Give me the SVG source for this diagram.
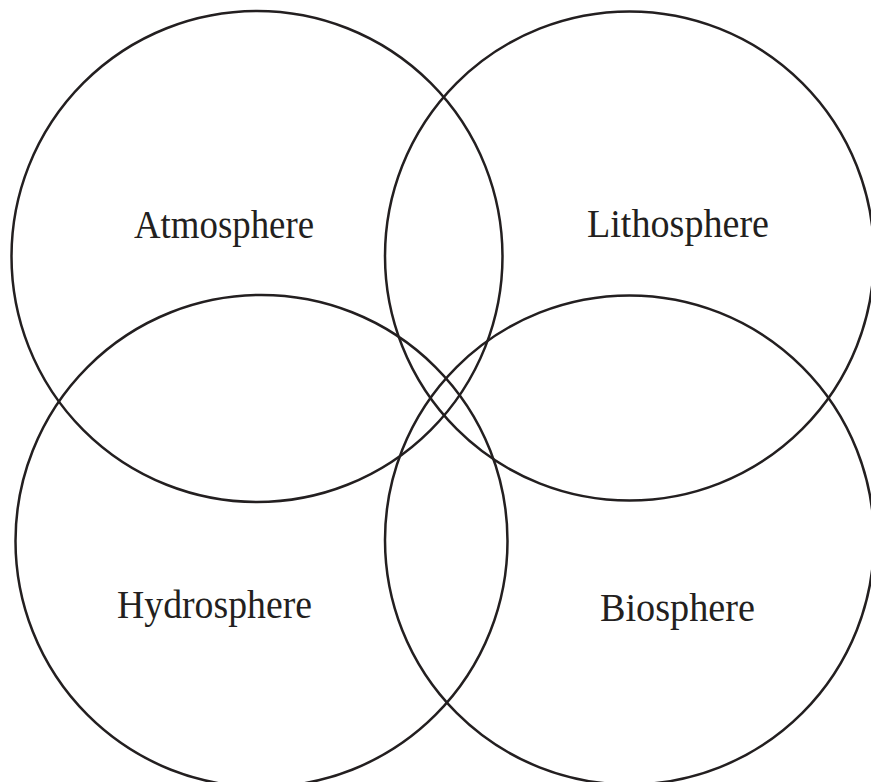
<svg xmlns="http://www.w3.org/2000/svg" width="871" height="782" viewBox="0 0 871 782">
<style>
.c{fill:none;stroke:#231f20;stroke-width:2.5}
.t{font-family:"Liberation Serif","Times New Roman",serif;font-size:40px;fill:#231f20}
</style>
<rect width="871" height="782" fill="#fff"/>
<g id="atmosphere"><circle class="c" cx="257" cy="256.5" r="245.5"/><text class="t" x="134" y="238" textLength="180" lengthAdjust="spacingAndGlyphs">Atmosphere</text></g>
<g id="lithosphere"><circle class="c" cx="629.5" cy="256" r="244.5"/><text class="t" x="587" y="237" textLength="182" lengthAdjust="spacingAndGlyphs">Lithosphere</text></g>
<g id="hydrosphere"><circle class="c" cx="261.5" cy="541" r="246"/><text class="t" x="117" y="618" textLength="195" lengthAdjust="spacingAndGlyphs">Hydrosphere</text></g>
<g id="biosphere"><circle class="c" cx="629.5" cy="540" r="244.5"/><text class="t" x="600" y="621" textLength="155" lengthAdjust="spacingAndGlyphs">Biosphere</text></g>
<g id="connectors"/>
</svg>
